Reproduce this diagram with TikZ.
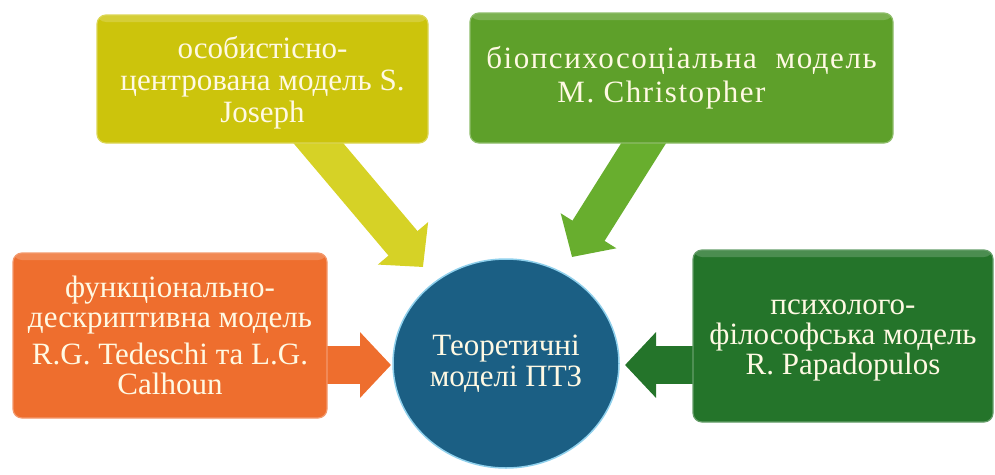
\documentclass[tikz,border=0pt]{standalone}
\usepackage{fontspec}
\setmainfont{Liberation Serif}
\newfontfamily\spacedfont[LetterSpace=5]{Liberation Serif}
\usetikzlibrary{arrows.meta,shapes.geometric,calc}
\definecolor{cyel}{HTML}{CCC40C}
\definecolor{cyelA}{HTML}{D6D226}
\definecolor{cgrn}{HTML}{5EA02A}
\definecolor{cgrnA}{HTML}{68AE2E}
\definecolor{cora}{HTML}{EE6E2E}
\definecolor{cdgr}{HTML}{24742A}
\definecolor{cblu}{HTML}{1B5F84}
\definecolor{ctxt}{HTML}{FFF9E3}
\definecolor{crim}{HTML}{8FD0EC}
\begin{document}
\begin{tikzpicture}[x=1pt,y=-1pt,
  box/.style={rectangle, rounded corners=9pt, inner sep=0pt, line width=1.2pt,
    path picture={\fill[white, opacity=0.18]
      (path picture bounding box.north west) rectangle
      ([yshift=-7pt]path picture bounding box.north east);}},
  boxtext/.style={align=center, text=ctxt, inner sep=0pt,
    font=\fontsize{31}{30}\selectfont},
  barrow/.style={line width=38pt, -{Triangle[width=64pt,length=31pt]}},
]
\useasboundingbox (0,0) rectangle (995,474);
% connectors (drawn first, boxes cover their starts)
\coordinate (ya) at (292,112);
\coordinate (yb) at (423,267);
\coordinate (ga) at (662,114);
\coordinate (gb) at (572,257);
\coordinate (oa) at (300,365);
\coordinate (ob) at (391,365);
\coordinate (da) at (720,365);
\coordinate (db) at (625,365);
\draw[barrow, cyelA] (ya) -- (yb);
\draw[barrow, cgrnA] (ga) -- (gb);
\draw[barrow, cora] (oa) -- (ob);
\draw[barrow, cdgr] (da) -- (db);
% boxes
\node[box, fill=cyel, draw=cyel!70!white, minimum width=331pt, minimum height=128pt]
  (yel) at (262.5,79) {};
\node[boxtext, font=\fontsize{31}{32}\selectfont] (yelT) at ([yshift=-4pt]yel.center)
  {особистісно-\\центрована модель S.\\Joseph};
\node[box, fill=cgrn, draw=cgrn!70!white, minimum width=423pt, minimum height=130pt]
  (grn) at (681.5,78) {};
\node[boxtext, font=\spacedfont\fontsize{31}{30}\selectfont] (grnT) at (grn.center)
  {біопсихосоціальна \ модель\\[4pt]M. Christopher\hspace*{40pt}};
\node[box, fill=cora, draw=cora!70!white, minimum width=314pt, minimum height=165pt]
  (ora) at (170,335.5) {};
\node[boxtext] (oraT) at (ora.center)
  {функціонально-\\дескриптивна модель\\[7pt]R.G. Tedeschi та L.G.\\Calhoun};
\node[box, fill=cdgr, draw=cdgr!70!white, minimum width=300pt, minimum height=172pt]
  (dgr) at (843,336) {};
\node[boxtext] (dgrT) at ([yshift=-4pt]dgr.center)
  {психолого-\\філософська модель\\R. Papadopulos};
% centre
\node[ellipse, fill=cblu, draw=crim, line width=1.5pt, minimum width=226pt, minimum height=209pt,
  inner sep=0pt, align=center, text=ctxt, font=\fontsize{31}{31}\selectfont]
  (ctr) at (506,363.5) {Теоретичні\\моделі ПТЗ};
\end{tikzpicture}
\end{document}
